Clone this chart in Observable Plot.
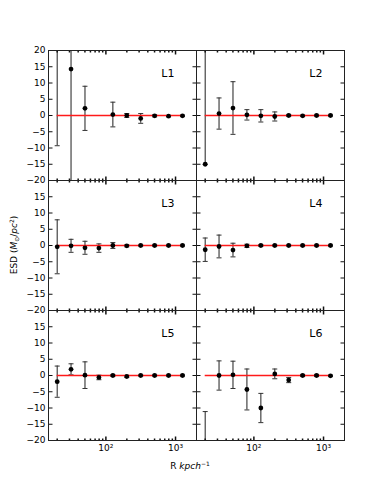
<!DOCTYPE html>
<html><head><meta charset="utf-8">
<script src="https://cdn.jsdelivr.net/npm/d3@7"></script>
<script src="https://cdn.jsdelivr.net/npm/@observablehq/plot@0.6"></script>
<style>body{margin:0;background:#fff;} svg{font-family:"DejaVu Sans",sans-serif;}</style>
</head><body><div id="chart"></div>
<script>
const R = [20, 31.6, 50.1, 79.4, 125.9, 199.5, 316.2, 501.2, 794.3, 1258.9];
const panelNames = ["L1", "L2", "L3", "L4", "L5", "L6"];
const L1_val = [24, 14.3, 2.2, null, 0.3, 0.0, -0.9, -0.1, -0.2, -0.1];
const L1_err = [33.3, 36, 6.8, null, 3.8, 0.6, 1.5, 0.3, 0.2, 0.2];
const L2_val = [-15, 0.6, 2.3, 0.2, -0.1, -0.3, 0, -0.1, 0, 0];
const L2_err = [40, 4.8, 8.1, 1.6, 1.9, 1.4, 0.3, 0.2, 0.2, 0.2];
const L2_errLow = [0, 4.8, 8.1, 1.6, 1.9, 1.4, 0.3, 0.2, 0.2, 0.2];
const L3_val = [-0.4, -0.1, -0.7, -0.8, 0, -0.1, 0, 0, 0, 0];
const L3_err = [8.3, 2.0, 2.0, 1.3, 0.9, 0.3, 0.2, 0.2, 0.2, 0.2];
const L4_val = [-1.3, -0.3, -1.4, -0.1, 0, 0, 0, 0, 0, 0];
const L4_err = [3.6, 3.5, 2.1, 0.5, 0.3, 0.2, 0.2, 0.2, 0.2, 0.2];
const L5_val = [-1.9, 1.9, 0.1, -0.6, 0, -0.3, 0, 0, 0, 0];
const L5_err = [4.8, 1.7, 4.1, 0.7, 0.3, 0.3, 0.2, 0.2, 0.2, 0.2];
const L6_val = [-26, 0, 0.2, -4.3, -10.0, 0.5, -1.4, 0, 0, -0.1];
const L6_err = [14.9, 4.5, 4.2, 6.3, 4.5, 1.5, 0.8, 0.3, 0.3, 0.2];
const yTicks = [20, 15, 10, 5, 0, -5, -10, -15, -20];
const xMajor = [100, 1000];
const xMajorLabels = ["10²", "10³"];
const xMinor = [20, 30, 40, 50, 60, 70, 80, 90, 200, 300, 400, 500, 600, 700, 800, 900];

const series = [
  [L1_val, L1_err, L1_err], [L2_val, L2_err, L2_errLow], [L3_val, L3_err, L3_err],
  [L4_val, L4_err, L4_err], [L5_val, L5_err, L5_err], [L6_val, L6_err, L6_err]
];
const points = [], caps = [];
series.forEach(([vals, errs, errLow], p) => {
  const col = p % 2, row = Math.floor(p / 2);
  vals.forEach((v, i) => {
    if (v == null) return;
    const lo = v - errLow[i], hi = v + errs[i];
    points.push({R: R[i], v, lo, hi, col, row});
    caps.push({R: R[i], y: lo, col, row}, {R: R[i], y: hi, col, row});
  });
});
const labels = panelNames.map((name, p) => ({name, col: p % 2, row: Math.floor(p / 2)}));
const yLab = [];
for (let row = 0; row < 3; row++) for (const t of yTicks) if (row === 0 || t !== 20) yLab.push({t, row, col: 0, text: t < 0 ? "−" + (-t) : String(t)});
const xLab = [];
for (let col = 0; col < 2; col++) xMajor.forEach((m, i) => xLab.push({m, col, row: 2, text: xMajorLabels[i]}));

const sym = (x1, y1, x2, y2) => ({draw(ctx) { ctx.moveTo(x1, y1); ctx.lineTo(x2, y2); }});
const ink = "#111";
const ymin = -20, ymax = 20, xmin = 15, xmax = 2000;

const plot = Plot.plot({
  width: 382, height: 491,
  marginLeft: 48, marginRight: 38, marginTop: 49, marginBottom: 50,
  x: {type: "log", domain: [xmin, xmax], axis: null},
  y: {domain: [ymin, ymax], axis: null},
  fx: {domain: [0, 1], padding: 0, axis: null},
  fy: {domain: [0, 1, 2], padding: 0, axis: null},
  style: {fontFamily: "DejaVu Sans, sans-serif", fontSize: "9px", background: "white"},
  marks: [
    Plot.ruleX(points, {x: "R", y1: "lo", y2: "hi", fx: "col", fy: "row", stroke: "#333", strokeWidth: 1.1, clip: true}),
    Plot.dot(caps, {x: "R", y: "y", fx: "col", fy: "row", symbol: sym(-2.5, 0, 2.5, 0), stroke: "#333", strokeWidth: 1, clip: true}),
    Plot.ruleY([0], {x1: R[0], x2: R[R.length - 1], stroke: "#ff1a1a", strokeWidth: 1.6}),
    Plot.dot(points, {x: "R", y: "v", fx: "col", fy: "row", r: 2.4, fill: "black", clip: true}),
    Plot.dot(yTicks, {x: xmin, y: d => d, symbol: sym(0, 0, 4, 0), stroke: ink, strokeWidth: 1}),
    Plot.dot(yTicks, {x: xmax, y: d => d, symbol: sym(0, 0, -4, 0), stroke: ink, strokeWidth: 1}),
    Plot.dot(xMajor, {x: d => d, y: ymin, symbol: sym(0, 0, 0, -4), stroke: ink}),
    Plot.dot(xMajor, {x: d => d, y: ymax, symbol: sym(0, 0, 0, 4), stroke: ink}),
    Plot.dot(xMinor, {x: d => d, y: ymin, symbol: sym(0, 0, 0, -2), stroke: ink}),
    Plot.dot(xMinor, {x: d => d, y: ymax, symbol: sym(0, 0, 0, 2), stroke: ink}),
    Plot.frame({stroke: "#222", strokeWidth: 1}),
    Plot.text(labels, {fx: "col", fy: "row", text: "name", frameAnchor: "top-right", textAnchor: "end", lineAnchor: "middle", dx: -22, dy: 23, fontSize: 11, fill: "black"}),
    Plot.text(yLab, {fx: "col", fy: "row", x: xmin, y: "t", text: "text", textAnchor: "end", dx: -3, fill: "black"}),
    Plot.text(xLab, {fx: "col", fy: "row", x: "m", y: ymin, text: "text", lineAnchor: "top", dy: 4, fill: "black"})
  ]
});
document.getElementById("chart").appendChild(plot);
const svg = d3.select(plot);
const yl = svg.append("text").attr("transform", "translate(17,245) rotate(-90)").attr("text-anchor", "middle")
  .attr("font-size", 9).attr("fill", "black");
yl.append("tspan").text("ESD (");
yl.append("tspan").attr("font-style", "italic").text("M");
yl.append("tspan").attr("font-size", 6).attr("dy", 2).text("⊙");
yl.append("tspan").attr("dy", -2).text("/");
yl.append("tspan").attr("font-style", "italic").text("pc");
yl.append("tspan").attr("font-size", 6).attr("dy", -3).text("2");
yl.append("tspan").attr("dy", 3).text(")");
const xl = svg.append("text").attr("x", 190).attr("y", 469).attr("text-anchor", "middle").attr("font-size", 9).attr("fill", "black");
xl.append("tspan").text("R ");
xl.append("tspan").attr("font-style", "italic").text("kpch");
xl.append("tspan").attr("font-size", 6).attr("dy", -3).text("−1");
</script></body></html>
